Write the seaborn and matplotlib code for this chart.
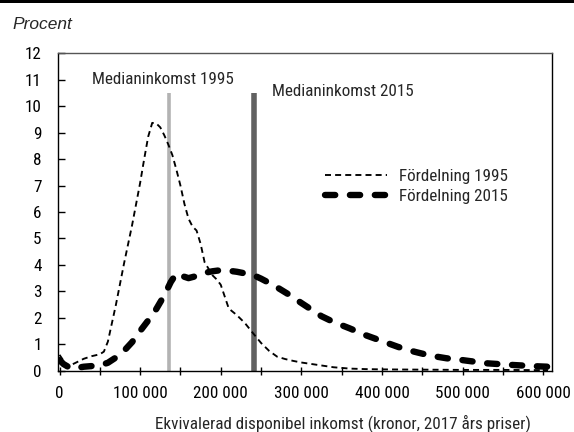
import matplotlib
matplotlib.use("Agg")
import matplotlib.pyplot as plt
import matplotlib.ticker as mticker
from matplotlib.patches import Rectangle
from matplotlib.lines import Line2D
import seaborn as sns
import pandas as pd

# ---- data (income in kronor, share in percent) ----
x_1995 = [0, 10e3, 20e3, 30e3, 40e3, 50e3, 55e3, 60e3, 70e3, 80e3, 90e3, 100e3, 105e3, 110e3,
          115e3, 120e3, 125e3, 130e3, 135e3, 140e3, 145e3, 150e3, 155e3, 160e3, 165e3, 170e3,
          175e3, 180e3, 185e3, 190e3, 195e3, 200e3, 205e3, 210e3, 220e3, 230e3, 240e3, 250e3,
          260e3, 270e3, 280e3, 290e3, 300e3, 320e3, 340e3, 360e3, 380e3, 400e3, 450e3, 500e3,
          550e3, 606e3]
y_1995 = [0.60, 0.15, 0.30, 0.45, 0.55, 0.62, 0.72, 1.10, 2.50, 4.05, 5.50, 7.10, 8.00, 8.85,
          9.37, 9.35, 9.20, 8.90, 8.55, 8.15, 7.60, 7.00, 6.30, 5.75, 5.45, 5.30,
          4.80, 4.10, 3.85, 3.60, 3.45, 3.25, 2.80, 2.35, 2.10, 1.80, 1.42, 1.05,
          0.75, 0.53, 0.44, 0.37, 0.31, 0.22, 0.13, 0.08, 0.06, 0.05, 0.04, 0.03,
          0.03, 0.02]

x_2015 = [0, 5e3, 15e3, 30e3, 50e3, 60e3, 70e3, 80e3, 90e3, 100e3, 110e3, 120e3, 130e3, 138e3,
          145e3, 150e3, 160e3, 170e3, 180e3, 190e3, 200e3, 210e3, 220e3, 230e3, 240e3, 250e3,
          260e3, 270e3, 285e3, 300e3, 310e3, 325e3, 340e3, 360e3, 380e3, 400e3, 420e3, 440e3,
          460e3, 480e3, 500e3, 530e3, 560e3, 590e3, 606e3]
y_2015 = [0.40, 0.25, 0.07, 0.15, 0.20, 0.30, 0.50, 0.75, 1.08, 1.50, 1.90, 2.33, 2.85, 3.35,
          3.68, 3.60, 3.50, 3.58, 3.70, 3.76, 3.80, 3.78, 3.74, 3.68, 3.62, 3.48,
          3.32, 3.15, 2.87, 2.56, 2.36, 2.06, 1.84, 1.60, 1.34, 1.12, 0.90, 0.72,
          0.57, 0.47, 0.40, 0.28, 0.22, 0.17, 0.15]

median_years = ["1995", "2015"]
median_income = [136000, 241000]
median_top = 10.5
median_colors = ["#b3b3b3", "#616161"]
median_widths = [2.6, 4.0]

series_labels = ["Fördelning 1995", "Fördelning 2015"]
x_ticks = [0, 100000, 200000, 300000, 400000, 500000, 600000]
x_ticklabels = ["0", "100 000", "200 000", "300 000", "400 000", "500 000", "600 000"]
y_ticks = list(range(0, 13))

# ---- style ----
sns.set_theme(style="white")
FONT = ["Roboto Condensed", "Archivo Narrow", "DejaVu Sans"]
plt.rcParams["font.family"] = FONT
FS = 12.3

fig = plt.figure(figsize=(5.74, 4.32), dpi=100)
ax = fig.add_axes([0.1016, 0.1419, 0.961 - 0.1016, 0.8766 - 0.1419])

df95 = pd.DataFrame({"x": x_1995, "y": y_1995})
df15 = pd.DataFrame({"x": x_2015, "y": y_2015})

# median lines
for xm, col, lw in zip(median_income, median_colors, median_widths):
    ax.vlines(xm, 0, median_top, color=col, linewidth=lw, zorder=1)

sns.lineplot(data=df95, x="x", y="y", ax=ax, color="black", linewidth=1.35,
             errorbar=None, sort=False, zorder=3)
l95 = ax.lines[-1]
l95.set_dashes([3.2, 2.2])
l95.set_dash_capstyle("butt")

sns.lineplot(data=df15, x="x", y="y", ax=ax, color="black", linewidth=4.6,
             errorbar=None, sort=False, zorder=4)
l15 = ax.lines[-1]
l15.set_dashes([1.6, 2.3])
l15.set_dash_capstyle("round")

ax.set_xlim(-1500, 610500)
ax.set_ylim(0, 12)
ax.set_xticks(x_ticks)
ax.set_xticklabels(x_ticklabels)
ax.xaxis.set_minor_locator(mticker.MultipleLocator(50000))
ax.set_yticks(y_ticks)
ax.set_xlabel("Ekvivalerad disponibel inkomst (kronor, 2017 års priser)", fontsize=FS)
ax.set_ylabel("")
ax.xaxis.set_label_coords(0.577, -0.137)

ax.tick_params(axis="x", which="both", direction="inout", length=6, width=1, colors="black",
               labelsize=FS, pad=8, bottom=True)
ax.tick_params(axis="y", which="major", direction="in", length=5, width=1, colors="black",
               labelsize=FS, pad=12, left=True)

for side in ["left", "bottom", "right"]:
    ax.spines[side].set_color("black")
    ax.spines[side].set_linewidth(1.0)
ax.spines["top"].set_color("#555555")
ax.spines["top"].set_linewidth(1.0)
ax.grid(False)

# median labels
ax.text(128000, 11.0, "Medianinkomst " + median_years[0], ha="center",
        va="center", fontsize=FS)
ax.text(263500, 10.57, "Medianinkomst " + median_years[1], ha="left",
        va="center", fontsize=FS)

# legend
h95 = Line2D([], [], color="black", linewidth=1.35, dashes=[3.2, 2.2])
h15 = Line2D([], [], color="black", linewidth=4.6, dashes=[1.6, 2.3], dash_capstyle="round")
ax.legend([h95, h15], series_labels, loc="upper left", bbox_to_anchor=(0.524, 0.662),
          frameon=False, fontsize=FS, handlelength=3.6, handletextpad=0.7,
          labelspacing=0.3, borderpad=0)

# "Procent" and top bar
fig.text(0.022, 0.944, "Procent", fontsize=12.5, style="italic",
         family=["Liberation Sans", "DejaVu Sans"], va="center", ha="left")
fig.patches.append(Rectangle((0, 0.992), 1, 0.008, transform=fig.transFigure,
                             facecolor="black", edgecolor="none"))

fig.savefig("out.png", dpi=100)
